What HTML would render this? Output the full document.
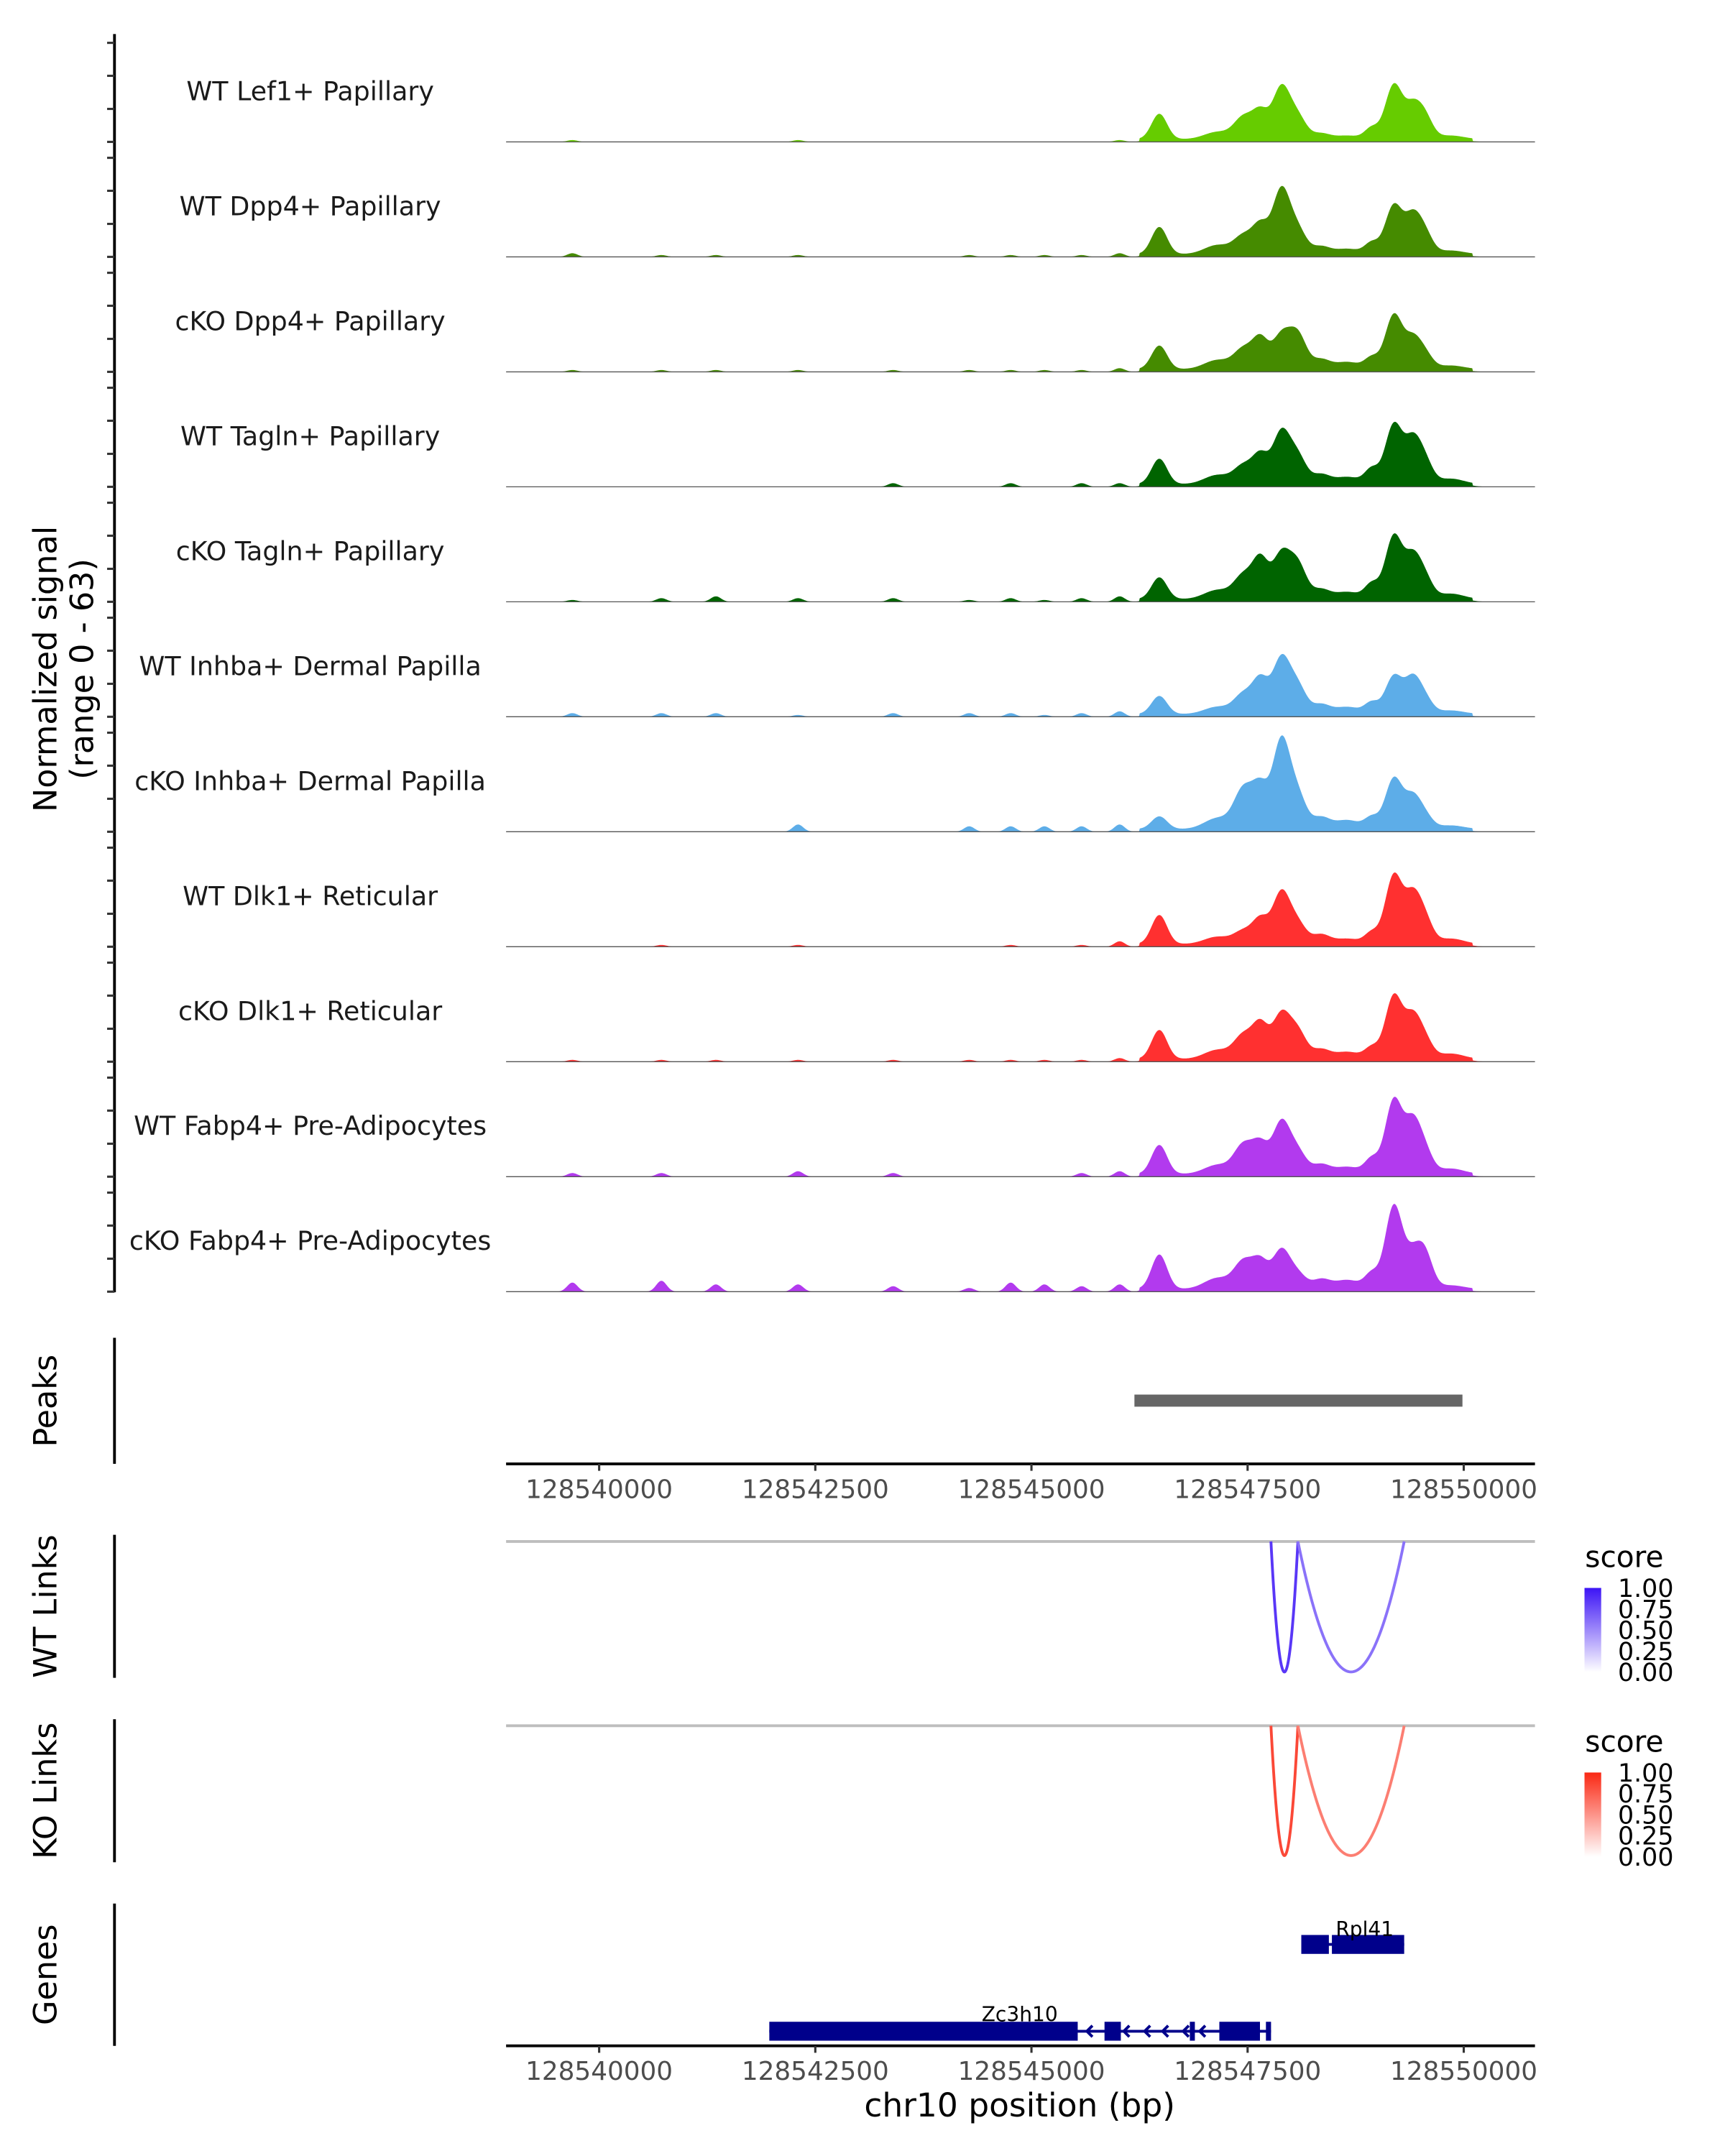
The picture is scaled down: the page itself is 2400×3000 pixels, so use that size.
<!DOCTYPE html>
<html><head><meta charset="utf-8"><style>
html,body{margin:0;padding:0;background:#fff;}
svg{display:block;font-family:"DejaVu Sans","Liberation Sans",sans-serif;}
</style></head><body>
<svg id="chart" width="2400" height="3000" viewBox="0 0 1240 1550" xmlns="http://www.w3.org/2000/svg">
<g id="tracks"></g>
<g id="axes"></g>
<g id="links"></g>
<g id="genes"></g>
</svg>
<script>
// ---- data ----
const trackNames = ["WT Lef1+ Papillary","WT Dpp4+ Papillary","cKO Dpp4+ Papillary","WT Tagln+ Papillary","cKO Tagln+ Papillary","WT Inhba+ Dermal Papilla","cKO Inhba+ Dermal Papilla","WT Dlk1+ Reticular","cKO Dlk1+ Reticular","WT Fabp4+ Pre-Adipocytes","cKO Fabp4+ Pre-Adipocytes"];
const trackColors = ["#66cc00","#458b00","#458b00","#006400","#006400","#5dade8","#5dade8","#ff3030","#ff3030","#b23aee","#b23aee"];
const peakPos = [128546479,128547150,128547455,128547650,128547889,128548080,128548350,128548650,128548935,128549192,128549410,128549550,128549850];
const peakWidth = [90,150,110,90,100,100,100,150,80,100,90,90,150];
const peakHeights = [
 [14,4,12,14,28,12,3,2,6,30,16,12,2],
 [15,5,10,15,35,13,4,3,6,27,19,11,2],
 [13,5,11,16,18,19,5,4,6,30,15,8,2],
 [14,5,10,15,28,15,5,4,8,33,22,12,3],
 [12,5,13,21,24,19,5,4,8,35,21,11,3],
 [10,4,11,18,30,15,5,4,6,21,18,8,2],
 [7,6,22,21,48,18,6,5,6,28,16,7,2],
 [16,4,7,13,28,11,5,3,6,38,24,13,3],
 [16,5,13,18,24,15,5,4,6,35,21,10,3],
 [16,5,16,15,28,12,5,4,8,41,26,12,3],
 [19,6,15,14,21,8,5,5,8,46,16,19,2]
];
const bgPos = [128539690,128540720,128541350,128542300,128543400,128544280,128544760,128545150,128545580,128546020];
const bgHeights = [
 [1,0,0,1,0,0,0,0,0,1],
 [2,1,1,1,0,1,1,1,1,2],
 [1,1,1,1,1,1,1,1,1,2],
 [0,0,0,0,2,0,2,0,2,2],
 [1,2,3,2,2,1,2,1,2,3],
 [2,2,2,1,2,2,2,1,2,3],
 [0,0,0,4,0,3,3,3,3,4],
 [0,1,0,1,0,0,1,0,1,3],
 [1,1,1,1,1,1,1,1,1,2],
 [2,2,0,3,2,0,0,0,2,3],
 [5,6,4,4,3,2,5,4,3,4]
];
const xTicks = [128540000,128542500,128545000,128547500,128550000];
const peakRegions = [[128546191,128549985]];
const linkStart = [128547770,128548082];
const linkEnd = [128548082,128549311];
const linkScoreWT = [0.85,0.6];
const linkScoreKO = [0.85,0.6];
const legendTicks = ["1.00","0.75","0.50","0.25","0.00"];
const geneRpl41Exons = [[128548121,128548440],[128548475,128549311]];
const geneZc3h10Exons = [[128541968,128545535],[128545845,128546034],[128546832,128546890],[128547173,128547643],[128547712,128547771]];
const geneZc3h10Span = [128541968,128547771];
const geneRpl41Span = [128548121,128549311];
const zc3h10Arrows = [128545657,128546084,128546325,128546533,128546771,128546962];
const signalEnd = 128550270;

// ---- scales ----
const NS = "http://www.w3.org/2000/svg";
const X0 = 363.8, X1 = 1103.4, BPPX = 16.09;
function xs(bp){ return 430.7 + (bp - 128540000)/BPPX; }
const trackH = 82.66, firstBase = 102;
function ys(v, base){ return base - v*82/63; }
function el(tag, attrs, parent, text){ const e=document.createElementNS(NS,tag); for(const k in attrs) e.setAttribute(k,attrs[k]); if(text!==undefined) e.textContent=text; parent.appendChild(e); return e; }

const gT = document.getElementById('tracks');
const gA = document.getElementById('axes');
const gL = document.getElementById('links');
const gG = document.getElementById('genes');

// tracks
const xEnd = xs(signalEnd);
trackNames.forEach((name,i)=>{
  const base = firstBase + i*trackH;
  const g = el('g',{},gT);
  
  
  let d = 'M'+X0+','+base;
  for(let px=X0; px<=xEnd; px+=0.5){
    const bp = 128540000 + (px-430.7)*BPPX;
    let v = 0;
    peakPos.forEach((p,k)=>{ const z=(bp-p)/peakWidth[k]; v += peakHeights[i][k]*Math.exp(-0.5*z*z); });
    bgPos.forEach((p,k)=>{ const z=(bp-p)/60; v += bgHeights[i][k]*Math.exp(-0.5*z*z); });
    if(bp>128546250 && bp<128550100) v += 1.5;
    d += ' L'+px.toFixed(1)+','+ys(v,base).toFixed(2);
  }
  d += ' L'+xEnd.toFixed(1)+','+base+' Z';
  const area = el('path',{d:d,fill:trackColors[i]},g);
  
  
  const bl = el('line',{x1:X0,x2:X1,y1:base,y2:base,stroke:'#555','stroke-width':0.7},g);
  
  
  const t = el('text',{x:223,y:base-30,'font-size':18.8,'text-anchor':'middle',fill:'#1a1a1a'},g,name);
  
  
});

// left axis for coverage
const ax = el('line',{x1:82.3,x2:82.3,y1:24.5,y2:929,stroke:'#000','stroke-width':2},gA);


for(let i=0;i<11;i++){
  const base = firstBase + i*trackH;
  [0,23.7,47.5,71.2].forEach(off=>{
    const y = base - off;
    const tk = el('line',{x1:77,x2:82.3,y1:y,y2:y,stroke:'#333','stroke-width':1.6},gA);
    
    
  });
}
const yt = el('text',{transform:'translate(40.5,481) rotate(-90)','font-size':23,'text-anchor':'middle'},gA,'Normalized signal');


const yt2 = el('text',{transform:'translate(67,481) rotate(-90)','font-size':23,'text-anchor':'middle'},gA,'(range 0 - 63)');



// panel axes & titles
function panel(name,y1,y2,label){
  const l = el('line',{x1:82.3,x2:82.3,y1:y1,y2:y2,stroke:'#000','stroke-width':2},gA);
  
  
  const t = el('text',{transform:'translate(40.5,'+((y1+y2)/2)+') rotate(-90)','font-size':23,'text-anchor':'middle'},gA,label);
  
  
}
panel('peaks',961.8,1052.4,'Peaks');
panel('wt-links',1103.4,1206.2,'WT Links');
panel('ko-links',1236,1338.8,'KO Links');
panel('genes',1368.5,1470.8,'Genes');

// peak bar
peakRegions.forEach(r=>{
  const b = el('rect',{x:xs(r[0]),y:1002.6,width:xs(r[1])-xs(r[0]),height:8.7,fill:'#666'},gA);
  
  
});

// x axes
function xAxis(y,name){
  const l = el('line',{x1:X0,x2:X1,y1:y,y2:y,stroke:'#000','stroke-width':2},gA);
  
  
  xTicks.forEach(v=>{
    const tk = el('line',{x1:xs(v),x2:xs(v),y1:y,y2:y+5,stroke:'#333','stroke-width':1.6},gA);
    
    
    const tl = el('text',{x:xs(v),y:y+24.5,'font-size':18.5,'text-anchor':'middle',fill:'#4d4d4d'},gA,String(v));
    
    
  });
}
xAxis(1052.4,'peaks-x-axis');
xAxis(1470.8,'genes-x-axis');
const xt = el('text',{x:733,y:1521.5,'font-size':23.5,'text-anchor':'middle'},gA,'chr10 position (bp)');



// links
function blend(c1,c2,t){ return 'rgb('+c1.map((c,k)=>Math.round(c2[k]+(c-c2[k])*t)).join(',')+')'; }
function linksPanel(top,bottom,scores,full,light,name,legTop){
  const gl = el('line',{x1:X0,x2:X1,y1:top,y2:top,stroke:'#bebebe','stroke-width':2},gL);
  
  
  linkStart.forEach((s,k)=>{
    const a=xs(s), b=xs(linkEnd[k]);
    const depth = bottom - top;
    let d='';
    for(let i=0;i<=60;i++){
      const t=i/60;
      const x=a+(b-a)*t; const y=top+depth*(1-Math.pow(2*t-1,2));
      d += (i===0?'M':' L')+x.toFixed(2)+','+y.toFixed(2);
    }
    const p = el('path',{d:d,fill:'none',stroke:blend(full,light,scores[k]),'stroke-width':2},gL);
    
    
  });
  const lg = el('g',{},gL);
  
  
  el('text',{x:1139.4,y:legTop-15,'font-size':21},lg,'score');
  const gid = name+'-grad';
  const defs = el('defs',{},lg);
  const gr = el('linearGradient',{id:gid,x1:0,y1:1,x2:0,y2:0},defs);
  el('stop',{offset:'0','stop-color':'#ffffff'},gr);
  el('stop',{offset:'1','stop-color':'rgb('+full.join(',')+')'},gr);
  el('rect',{x:1139,y:legTop,width:12,height:60.5,fill:'url(#'+gid+')'},lg);
  legendTicks.forEach((t,k)=>{
    el('text',{x:1163,y:legTop+6.5+k*15.1,'font-size':18,fill:'#000'},lg,t);
  });
}
linksPanel(1108.2,1202,linkScoreWT,[60,20,245],[255,255,255],'wt-links',1141.6);
linksPanel(1240.7,1334,linkScoreKO,[250,40,20],[255,255,255],'ko-links',1274.3);

// genes
const navy='#00008b';
function gene(span,exons,y,label,lx,ly,name,arrows){
  const g = el('g',{},gG);
  
  
  el('line',{x1:xs(span[0]),x2:xs(span[1]),y1:y,y2:y,stroke:navy,'stroke-width':2},g);
  exons.forEach(e=>{ el('rect',{x:xs(e[0]),y:y-6.8,width:Math.max(2.5,xs(e[1])-xs(e[0])),height:13.6,fill:navy},g); });
  arrows.forEach(bp=>{ const x=xs(bp); el('path',{d:'M'+(x+3)+','+(y-4)+' L'+(x-1)+','+y+' L'+(x+3)+','+(y+4),fill:'none',stroke:navy,'stroke-width':2},g); });
  el('text',{x:lx,y:ly,'font-size':14.5,'text-anchor':'middle'},g,label);
}
gene(geneRpl41Span,geneRpl41Exons,1397.9,'Rpl41',981,1392,'gene-rpl41',[]);
gene(geneZc3h10Span,geneZc3h10Exons,1460.3,'Zc3h10',733,1453,'gene-zc3h10',zc3h10Arrows);
</script>
</body></html>
